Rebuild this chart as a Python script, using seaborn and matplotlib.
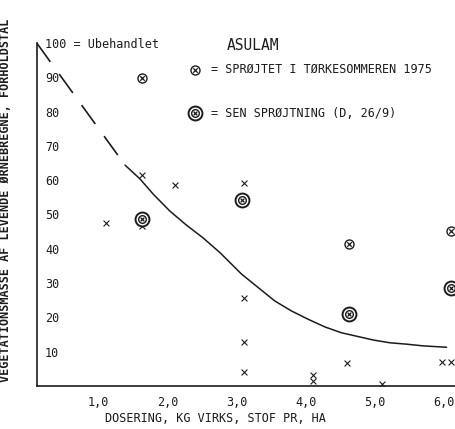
from matplotlib import pyplot as plt
from matplotlib.transforms import ScaledTranslation
import matplotlib
import seaborn as sns
import pandas as pd
import numpy as np

matplotlib.use('Agg')

# single observations (x)
dose_x = [1.0, 1.52, 1.52, 2.0, 3.0, 3.0, 3.0, 3.0, 4.0, 4.0, 4.5, 5.0, 5.88, 6.0]
mass_x = [47.6, 61.5, 46.6, 58.6, 59.3, 25.7, 12.9, 4.2, 3.2, 1.5, 6.7, 0.5, 7.0, 7.0]

# sprøjtet i tørkesommeren 1975
dose_drought = [1.52, 4.52, 6.0]
mass_drought = [89.7, 41.3, 45.2]

# sen sprøjtning (D, 26/9)
dose_late = [1.52, 2.98, 4.52, 6.0]
mass_late = [48.8, 54.1, 20.9, 28.7]

# fitted curve
curve_x = [1.28, 1.50, 1.69, 1.93, 2.17, 2.41, 2.66, 2.97, 3.21, 3.45,
           3.69, 3.94, 4.18, 4.42, 4.64, 4.88, 5.12, 5.36, 5.60, 5.94]
curve_y = [64.4, 60.3, 55.9, 51.0, 46.9, 43.2, 38.8, 32.6, 28.7, 24.8,
           21.9, 19.4, 17.2, 15.5, 14.5, 13.4, 12.6, 12.2, 11.7, 11.3]
# dashed extension back to untreated
dash_x = [0.0, 1.28]
dash_y = [100.0, 64.4]

x_ticks = [1, 2, 3, 4, 5, 6]
x_labels = ['1,0', '2,0', '3,0', '4,0', '5,0', '6,0']
y_ticks = [10, 20, 30, 40, 50, 60, 70, 80, 90, 100]
y_labels = ['10', '20', '30', '40', '50', '60', '70', '80', '90', '100 = Ubehandlet']

INK = '#1c1c1c'
FONT = 'DejaVu Sans Mono'


def circled(ax, x, y, size, lw, transform=None):
    kw = dict(clip_on=False, zorder=4)
    if transform is not None:
        kw['transform'] = transform
    ax.scatter(x, y, s=size ** 2, marker='o', facecolors='white', edgecolors=INK, linewidths=lw, **kw)
    ax.scatter(x, y, s=(size * 0.5) ** 2, marker='x', color=INK, linewidths=lw * 0.9, **kw)


def double_circled(ax, x, y, transform=None):
    kw = dict(clip_on=False, zorder=3)
    if transform is not None:
        kw['transform'] = transform
    ax.scatter(x, y, s=10 ** 2, marker='o', facecolors='white', edgecolors=INK, linewidths=1.4, **kw)
    circled(ax, x, y, 5.5, 1.0, transform)


def plot_asulam():
    sns.set_style('white')
    plt.rcParams['font.family'] = [FONT, 'DejaVu Sans']

    fig = plt.figure(figsize=(4.56, 4.29), dpi=100)
    ax = fig.add_axes([0.0805, 0.1002, 0.9185, 0.8156])

    sns.lineplot(x=curve_x, y=curve_y, ax=ax, color=INK, linewidth=1.1, sort=False)
    sns.lineplot(x=dash_x, y=dash_y, ax=ax, color=INK, linewidth=1.2, sort=False,
                 linestyle=(0, (14, 9)))
    sns.scatterplot(x=dose_x, y=mass_x, ax=ax, marker='x', color=INK, s=18, linewidth=0.8, zorder=3)

    circled(ax, dose_drought, mass_drought, 6.5, 1.0)
    double_circled(ax, dose_late, mass_late)

    ax.set_xlim(0, 6.07)
    ax.set_ylim(0, 102)
    sns.despine(ax=ax)
    ax.spines['left'].set_bounds(0, 100)
    for side in ['left', 'bottom']:
        ax.spines[side].set_color(INK)
        ax.spines[side].set_linewidth(1.2)

    ax.set_xticks(x_ticks)
    ax.set_xticklabels(x_labels, fontsize=8.5, color=INK)
    ax.tick_params(axis='x', direction='inout', length=6, width=1.2, color=INK, pad=4)
    # typed labels sit a little left of their ticks
    shift = ScaledTranslation(-0.07, 0, fig.dpi_scale_trans)
    for lab in ax.get_xticklabels():
        lab.set_transform(lab.get_transform() + shift)

    ax.set_yticks(y_ticks)
    ax.set_yticklabels(y_labels, fontsize=8.5, color=INK, ha='left')
    ax.tick_params(axis='y', direction='in', length=3, width=1.0, color=INK, pad=-6)

    ax.set_xlabel('DOSERING, KG VIRKS, STOF PR, HA', fontsize=8.5, color=INK)
    ax.xaxis.set_label_coords(0.427, -0.074)
    ax.set_ylabel('VEGETATIONSMASSE AF LEVENDE ØRNEBREGNE, FORHOLDSTAL', fontsize=8.5,
                  color=INK, fontweight='bold')
    ax.yaxis.set_label_coords(-0.059, 0.53)

    # title and key
    ax.text(0.516, 0.972, 'ASULAM', transform=ax.transAxes, ha='center', va='center',
            fontsize=10.5, color=INK)
    circled(ax, 0.379, 0.904, 6.5, 1.0, transform=ax.transAxes)
    ax.text(0.417, 0.904, '= SPRØJTET I TØRKESOMMEREN 1975', transform=ax.transAxes,
            ha='left', va='center', fontsize=8.5, color=INK)
    double_circled(ax, 0.379, 0.779, transform=ax.transAxes)
    ax.text(0.417, 0.779, '= SEN SPRØJTNING (D, 26/9)', transform=ax.transAxes,
            ha='left', va='center', fontsize=8.5, color=INK)

    plt.savefig('out.png', dpi=100)


if __name__ == '__main__':
    plot_asulam()
